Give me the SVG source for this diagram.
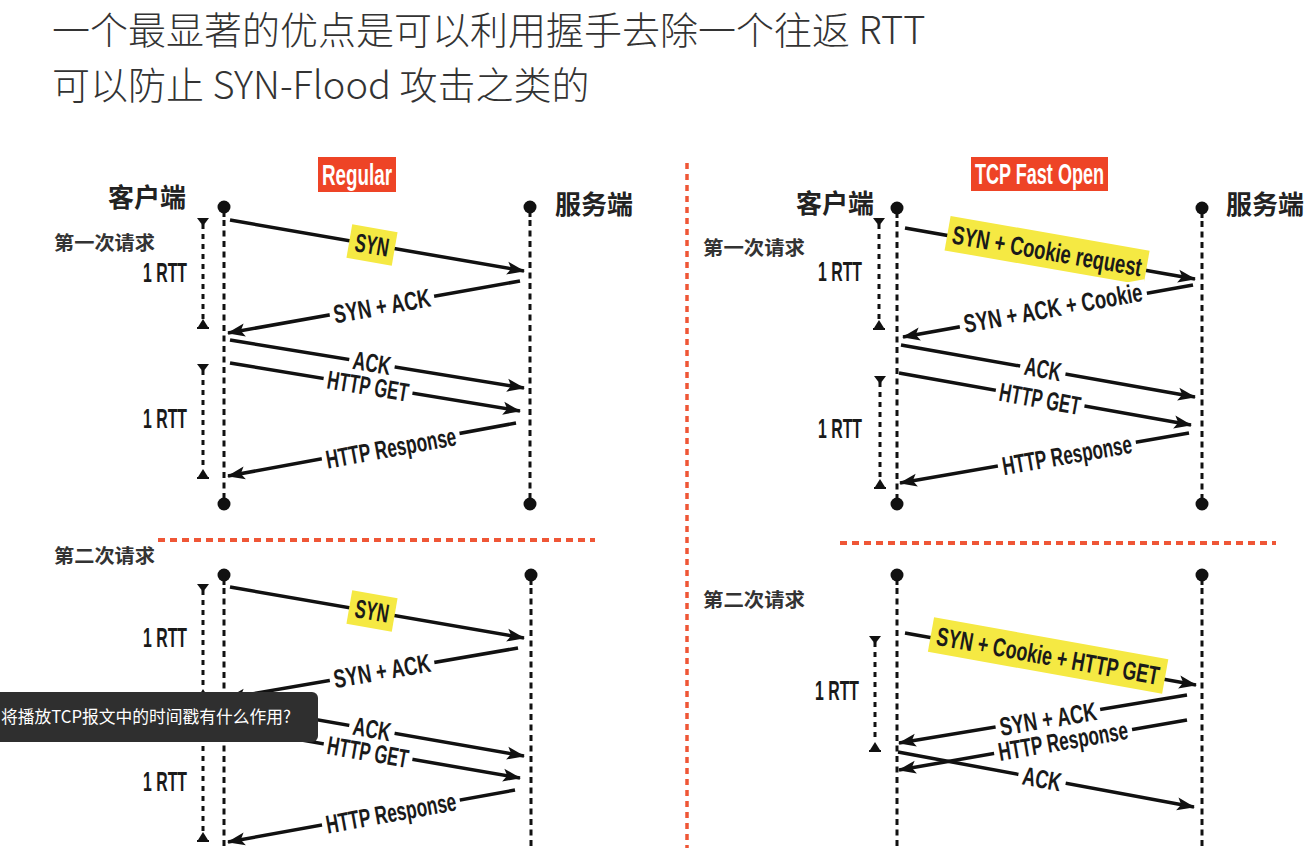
<svg xmlns="http://www.w3.org/2000/svg" width="1316" height="848" viewBox="0 0 1316 848">
<defs>
<marker id="ah" markerUnits="userSpaceOnUse" markerWidth="20" markerHeight="14" refX="17" refY="7" orient="auto">
<path d="M0,0.5 L18,7 L0,13.5 L4,7 z" fill="#111"/>
</marker>
<path id="tdown" d="M-6,-4 L6,-4 L0,4 z" fill="#111"/>
<path id="tup" d="M0,-5 L5,3 L-5,3 z M-6,3 L6,3 L6,5 L-6,5 z" fill="#111"/>
<style>
.hd{font-family:"Noto Sans CJK SC","Noto Sans",sans-serif;fill:#333;font-size:38px;font-weight:300}
.cn{font-family:"Noto Sans CJK SC",sans-serif;font-weight:700;fill:#222;font-size:26px}
.req{font-family:"Noto Sans CJK SC",sans-serif;font-weight:700;fill:#333;font-size:19px}
.lb{font-family:"Liberation Sans",Arial,sans-serif;font-weight:700;fill:#1a1a1a;font-size:26px;text-anchor:middle}
.rtt{font-family:"Liberation Sans",Arial,sans-serif;font-weight:700;fill:#1a1a1a;font-size:28px}
.tag{font-family:"Liberation Sans",Arial,sans-serif;font-weight:700;fill:#fff;font-size:29px}
.life{stroke:#111;stroke-width:3;stroke-dasharray:6 4.5;fill:none}
.stub{stroke:#111;stroke-width:3}
.br{stroke:#111;stroke-width:3;stroke-dasharray:5 5;fill:none}
.msg{stroke:#111;stroke-width:3.5;fill:none;marker-end:url(#ah)}
.red{stroke:#ef5636;stroke-width:4;stroke-dasharray:7 5;fill:none}
.wbg{fill:#fff}
.ybg{fill:#f5e943}
.dot{fill:#111}
</style>
</defs>
<rect width="1316" height="848" fill="#fff"/>

<g id="heading">
<text class="hd" x="52" y="44">一个最显著的优点是可以利用握手去除一个往返 RTT</text>
<text class="hd" x="52" y="99">可以防止 SYN-Flood 攻击之类的</text>
</g>

<g id="dividers">
<line class="red" x1="687" y1="163" x2="687" y2="848" style="stroke-width:3.5;stroke-dasharray:6 5"/>
<line class="red" x1="158" y1="540" x2="595" y2="540"/>
<line class="red" x1="840" y1="543" x2="1276" y2="543"/>
</g>

<g id="title-regular">
<rect x="318" y="157" width="78" height="35" fill="#ee4426"/>
<text class="tag" x="322" y="185" textLength="70" lengthAdjust="spacingAndGlyphs">Regular</text>
</g>
<g id="title-tfo">
<rect x="971" y="157" width="137" height="34" fill="#ee4426"/>
<text class="tag" x="975" y="184" textLength="129" lengthAdjust="spacingAndGlyphs">TCP Fast Open</text>
</g>

<g id="labels">
<text class="cn" x="108" y="207">客户端</text>
<text class="cn" x="555" y="214">服务端</text>
<text class="cn" x="796" y="213">客户端</text>
<text class="cn" x="1226" y="214">服务端</text>
<text class="req" x="54" y="250" textLength="101" lengthAdjust="spacingAndGlyphs">第一次请求</text>
<text class="req" x="54" y="563" textLength="101" lengthAdjust="spacingAndGlyphs">第二次请求</text>
<text class="req" x="703" y="255" textLength="102" lengthAdjust="spacingAndGlyphs">第一次请求</text>
<text class="req" x="703" y="607" textLength="102" lengthAdjust="spacingAndGlyphs">第二次请求</text>
<text class="rtt" x="143" y="282" textLength="44" lengthAdjust="spacingAndGlyphs">1 RTT</text>
<text class="rtt" x="143" y="428" textLength="44" lengthAdjust="spacingAndGlyphs">1 RTT</text>
<text class="rtt" x="143" y="647" textLength="44" lengthAdjust="spacingAndGlyphs">1 RTT</text>
<text class="rtt" x="143" y="791" textLength="44" lengthAdjust="spacingAndGlyphs">1 RTT</text>
<text class="rtt" x="818" y="281" textLength="44" lengthAdjust="spacingAndGlyphs">1 RTT</text>
<text class="rtt" x="818" y="438" textLength="44" lengthAdjust="spacingAndGlyphs">1 RTT</text>
<text class="rtt" x="815" y="700" textLength="44" lengthAdjust="spacingAndGlyphs">1 RTT</text>
</g>

<g id="client-left-1">
<circle class="dot" cx="224" cy="207" r="6.5"/><line class="stub" x1="224" y1="207" x2="224" y2="217"/>
<line class="life" x1="224" y1="220" x2="224" y2="494"/>
<line class="stub" x1="224" y1="494" x2="224" y2="504"/><circle class="dot" cx="224" cy="504" r="6.5"/>
</g>
<g id="server-left-1">
<circle class="dot" cx="530" cy="207" r="6.5"/><line class="stub" x1="530" y1="207" x2="530" y2="217"/>
<line class="life" x1="530" y1="220" x2="530" y2="494"/>
<line class="stub" x1="530" y1="494" x2="530" y2="504"/><circle class="dot" cx="530" cy="504" r="6.5"/>
</g>
<g id="client-left-2">
<circle class="dot" cx="224" cy="575" r="6.5"/><line class="stub" x1="224" y1="575" x2="224" y2="585"/>
<line class="life" x1="224" y1="588" x2="224" y2="848"/>
</g>
<g id="server-left-2">
<circle class="dot" cx="531" cy="575" r="6.5"/><line class="stub" x1="531" y1="575" x2="531" y2="585"/>
<line class="life" x1="531" y1="588" x2="531" y2="848"/>
</g>
<g id="client-right-1">
<circle class="dot" cx="897" cy="208" r="6.5"/><line class="stub" x1="897" y1="208" x2="897" y2="218"/>
<line class="life" x1="897" y1="221" x2="897" y2="494"/>
<line class="stub" x1="897" y1="494" x2="897" y2="504"/><circle class="dot" cx="897" cy="504" r="6.5"/>
</g>
<g id="server-right-1">
<circle class="dot" cx="1202" cy="208" r="6.5"/><line class="stub" x1="1202" y1="208" x2="1202" y2="218"/>
<line class="life" x1="1202" y1="221" x2="1202" y2="494"/>
<line class="stub" x1="1202" y1="494" x2="1202" y2="504"/><circle class="dot" cx="1202" cy="504" r="6.5"/>
</g>
<g id="client-right-2">
<circle class="dot" cx="897" cy="575" r="6.5"/><line class="stub" x1="897" y1="575" x2="897" y2="585"/>
<line class="life" x1="897" y1="588" x2="897" y2="848"/>
</g>
<g id="server-right-2">
<circle class="dot" cx="1202" cy="575" r="6.5"/><line class="stub" x1="1202" y1="575" x2="1202" y2="585"/>
<line class="life" x1="1202" y1="588" x2="1202" y2="848"/>
</g>

<g id="rtt-brackets">
<line class="br" x1="203" y1="224" x2="203" y2="320"/><use href="#tdown" x="203" y="222"/><use href="#tup" x="203" y="324"/>
<line class="br" x1="203" y1="370" x2="203" y2="470"/><use href="#tdown" x="203" y="368"/><use href="#tup" x="203" y="474"/>
<line class="br" x1="203" y1="590" x2="203" y2="690"/><use href="#tdown" x="203" y="588"/><use href="#tup" x="203" y="694"/>
<line class="br" x1="203" y1="736" x2="203" y2="833"/><use href="#tdown" x="203" y="734"/><use href="#tup" x="203" y="837"/>
<line class="br" x1="879" y1="224" x2="879" y2="320"/><use href="#tdown" x="879" y="222"/><use href="#tup" x="879" y="325"/>
<line class="br" x1="880" y1="382" x2="880" y2="480"/><use href="#tdown" x="880" y="380"/><use href="#tup" x="880" y="484"/>
<line class="br" x1="875" y1="642" x2="875" y2="742"/><use href="#tdown" x="875" y="640"/><use href="#tup" x="875" y="747"/>
</g>

<g id="connectors">
<line class="msg" x1="230" y1="220" x2="524" y2="271"/>
<line class="msg" x1="520" y1="281" x2="228" y2="333"/>
<line class="msg" x1="230" y1="340" x2="524" y2="388"/>
<line class="msg" x1="230" y1="363" x2="520" y2="411"/>
<line class="msg" x1="516" y1="423" x2="228" y2="476"/>
<line class="msg" x1="230" y1="587" x2="524" y2="638"/>
<line class="msg" x1="518" y1="648" x2="228" y2="698"/>
<line class="msg" x1="232" y1="705" x2="524" y2="756"/>
<line class="msg" x1="232" y1="728" x2="520" y2="778"/>
<line class="msg" x1="515" y1="790" x2="228" y2="842"/>
<line class="msg" x1="905" y1="228" x2="1195" y2="279"/>
<line class="msg" x1="1193" y1="285" x2="903" y2="337"/>
<line class="msg" x1="901" y1="345" x2="1195" y2="397"/>
<line class="msg" x1="899" y1="373" x2="1191" y2="425"/>
<line class="msg" x1="1189" y1="433" x2="900" y2="483"/>
<line class="msg" x1="905" y1="633" x2="1196" y2="685"/>
<line class="msg" x1="1187" y1="695" x2="899" y2="743"/>
<line class="msg" x1="1187" y1="720" x2="899" y2="770"/>
<line class="msg" x1="898" y1="752" x2="1194" y2="807"/>

<g transform="translate(372,245) rotate(9.8)"><rect class="ybg" x="-23" y="-17" width="46" height="34"/><text class="lb" x="0" y="9" textLength="34" lengthAdjust="spacingAndGlyphs">SYN</text></g>
<g transform="translate(382,306) rotate(-10.1)"><rect class="wbg" x="-53" y="-12" width="106" height="24"/><text class="lb" x="0" y="9" textLength="98" lengthAdjust="spacingAndGlyphs">SYN + ACK</text></g>
<g transform="translate(372,363) rotate(9.3)"><rect class="wbg" x="-23" y="-11" width="46" height="22"/><text class="lb" x="0" y="9" textLength="38" lengthAdjust="spacingAndGlyphs">ACK</text></g>
<g transform="translate(368,386) rotate(9.4)"><rect class="wbg" x="-45" y="-11" width="90" height="21"/><text class="lb" x="0" y="9" textLength="82" lengthAdjust="spacingAndGlyphs">HTTP GET</text></g>
<g transform="translate(391,448) rotate(-10.4)"><rect class="wbg" x="-70" y="-12" width="140" height="24"/><text class="lb" x="0" y="9" textLength="132" lengthAdjust="spacingAndGlyphs">HTTP Response</text></g>

<g transform="translate(372,611) rotate(9.8)"><rect class="ybg" x="-23" y="-17" width="46" height="34"/><text class="lb" x="0" y="9" textLength="34" lengthAdjust="spacingAndGlyphs">SYN</text></g>
<g transform="translate(382,671) rotate(-9.8)"><rect class="wbg" x="-53" y="-12" width="106" height="24"/><text class="lb" x="0" y="9" textLength="98" lengthAdjust="spacingAndGlyphs">SYN + ACK</text></g>
<g transform="translate(372,729) rotate(9.9)"><rect class="wbg" x="-23" y="-11" width="46" height="22"/><text class="lb" x="0" y="9" textLength="38" lengthAdjust="spacingAndGlyphs">ACK</text></g>
<g transform="translate(368,752) rotate(9.85)"><rect class="wbg" x="-45" y="-11" width="90" height="21"/><text class="lb" x="0" y="9" textLength="82" lengthAdjust="spacingAndGlyphs">HTTP GET</text></g>
<g transform="translate(391,813) rotate(-10.3)"><rect class="wbg" x="-70" y="-12" width="140" height="24"/><text class="lb" x="0" y="9" textLength="132" lengthAdjust="spacingAndGlyphs">HTTP Response</text></g>

<g transform="translate(1047,251) rotate(9.9)"><rect class="ybg" x="-101" y="-18" width="202" height="35"/><text class="lb" x="0" y="9" textLength="192" lengthAdjust="spacingAndGlyphs">SYN + Cookie request</text></g>
<g transform="translate(1053,308) rotate(-10.3)"><rect class="wbg" x="-95" y="-12" width="190" height="24"/><text class="lb" x="0" y="9" textLength="181" lengthAdjust="spacingAndGlyphs">SYN + ACK + Cookie</text></g>
<g transform="translate(1043,369) rotate(10.1)"><rect class="wbg" x="-23" y="-11" width="46" height="22"/><text class="lb" x="0" y="9" textLength="37" lengthAdjust="spacingAndGlyphs">ACK</text></g>
<g transform="translate(1040,399) rotate(10.2)"><rect class="wbg" x="-45" y="-11" width="90" height="21"/><text class="lb" x="0" y="9" textLength="82" lengthAdjust="spacingAndGlyphs">HTTP GET</text></g>
<g transform="translate(1067,455) rotate(-9.9)"><rect class="wbg" x="-70" y="-12" width="140" height="24"/><text class="lb" x="0" y="9" textLength="131" lengthAdjust="spacingAndGlyphs">HTTP Response</text></g>

<g transform="translate(1048,656) rotate(10.2)"><rect class="ybg" x="-119" y="-18" width="238" height="35"/><text class="lb" x="0" y="9" textLength="226" lengthAdjust="spacingAndGlyphs">SYN + Cookie + HTTP GET</text></g>
<g transform="translate(1048,719) rotate(-9.4)"><rect class="wbg" x="-53" y="-11" width="106" height="21"/><text class="lb" x="0" y="9" textLength="98" lengthAdjust="spacingAndGlyphs">SYN + ACK</text></g>
<g transform="translate(1063,741) rotate(-9.8)"><rect class="wbg" x="-70" y="-10" width="140" height="21"/><text class="lb" x="0" y="9" textLength="131" lengthAdjust="spacingAndGlyphs">HTTP Response</text></g>
<g transform="translate(1042,779) rotate(10.5)"><rect class="wbg" x="-24" y="-11" width="48" height="22"/><text class="lb" x="0" y="9" textLength="39" lengthAdjust="spacingAndGlyphs">ACK</text></g>
</g>

<g id="tooltip">
<rect x="-10" y="692" width="328" height="50" rx="6" fill="#2f2f2f"/>
<text x="1" y="723" font-family="'Noto Sans CJK SC',sans-serif" font-size="17" fill="#fff" textLength="290" lengthAdjust="spacingAndGlyphs">将播放TCP报文中的时间戳有什么作用?</text>
</g>
</svg>
